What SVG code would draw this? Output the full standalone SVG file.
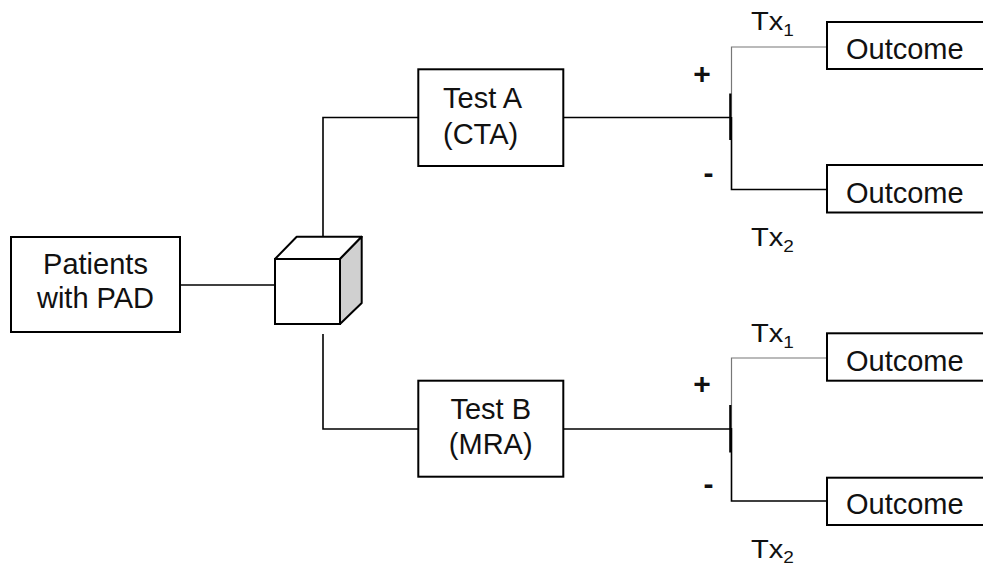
<svg xmlns="http://www.w3.org/2000/svg" width="983" height="563" viewBox="0 0 983 563">
<style>
.box{fill:#fff;stroke:#000;stroke-width:2}
.ln{stroke:#000;stroke-width:1.6;fill:none}
.thin{stroke:#777;stroke-width:1.2;fill:none}
.t{font-family:"Liberation Sans",Arial,sans-serif;font-size:29px;fill:#111}
.tx{font-family:"Liberation Sans",Arial,sans-serif;font-size:26px;fill:#111}
.sub{font-size:17px}
.sg{font-family:"Liberation Sans",Arial,sans-serif;font-size:30px;font-weight:bold;fill:#111}
</style>
<rect width="983" height="563" fill="#fff"/>
<g id="connectors">
<line class="ln" x1="180" y1="285" x2="275" y2="285"/>
<polyline class="ln" points="323,237 323,117.5 418,117.5"/>
<polyline class="ln" points="323,334 323,429 418,429"/>
<line class="ln" x1="563" y1="117.5" x2="731.5" y2="117.5"/>
<line class="ln" x1="563" y1="429" x2="731.5" y2="429"/>
<polyline class="thin" points="827,47 731.5,47 731.5,117"/>
<polyline class="ln" points="731.5,117 731.5,189.5 827,189.5"/>
<line x1="730.3" y1="93.5" x2="730.3" y2="140" stroke="#000" stroke-width="2.2"/>
<polyline class="thin" points="827,358 731.5,358 731.5,428"/>
<polyline class="ln" points="731.5,428 731.5,501 827,501"/>
<line x1="730.3" y1="405" x2="730.3" y2="452.5" stroke="#000" stroke-width="2.2"/>
</g>
<g id="patients">
<rect class="box" x="11" y="237" width="169" height="95"/>
<text class="t" x="95.5" y="274" text-anchor="middle">Patients</text>
<text class="t" x="95.5" y="308" text-anchor="middle">with PAD</text>
</g>
<g id="decision">
<polygon points="275,259 296.7,236.7 361.7,236.7 340,259" fill="#fff" stroke="#000" stroke-width="2" stroke-linejoin="round"/>
<polygon points="340,259 361.7,236.7 361.7,303 340,324" fill="#d0d0d0" stroke="#000" stroke-width="2" stroke-linejoin="round"/>
<rect class="box" x="275" y="259" width="65" height="65"/>
</g>
<g id="testA">
<rect class="box" x="418.3" y="69.3" width="145" height="96.7"/>
<text class="t" x="443" y="108">Test A</text>
<text class="t" x="443" y="144">(CTA)</text>
</g>
<g id="testB">
<rect class="box" x="418.3" y="380.7" width="145" height="96"/>
<text class="t" x="490.7" y="419" text-anchor="middle">Test B</text>
<text class="t" x="490.7" y="454" text-anchor="middle">(MRA)</text>
</g>
<g id="outcome1">
<rect class="box" x="827" y="22" width="170" height="47"/>
<text class="t" x="846" y="59">Outcome</text>
</g>
<g id="outcome2">
<rect class="box" x="827" y="165" width="170" height="47.5"/>
<text class="t" x="846" y="203">Outcome</text>
</g>
<g id="outcome3">
<rect class="box" x="827" y="333.3" width="170" height="47.4"/>
<text class="t" x="846" y="371">Outcome</text>
</g>
<g id="outcome4">
<rect class="box" x="827" y="477.7" width="170" height="47.3"/>
<text class="t" x="846" y="514">Outcome</text>
</g>
<g id="labels">
<text class="sg" x="702" y="84" text-anchor="middle">+</text>
<text class="sg" x="708.5" y="183" text-anchor="middle">-</text>
<text class="sg" x="702" y="394" text-anchor="middle">+</text>
<text class="sg" x="708.5" y="494" text-anchor="middle">-</text>
<g transform="translate(751 0) scale(1.12 1)">
<text class="tx" x="0" y="30">Tx<tspan class="sub" dy="6">1</tspan></text>
<text class="tx" x="0" y="246">Tx<tspan class="sub" dy="6">2</tspan></text>
<text class="tx" x="0" y="342">Tx<tspan class="sub" dy="6">1</tspan></text>
<text class="tx" x="0" y="558">Tx<tspan class="sub" dy="5">2</tspan></text>
</g>
</g>
</svg>
